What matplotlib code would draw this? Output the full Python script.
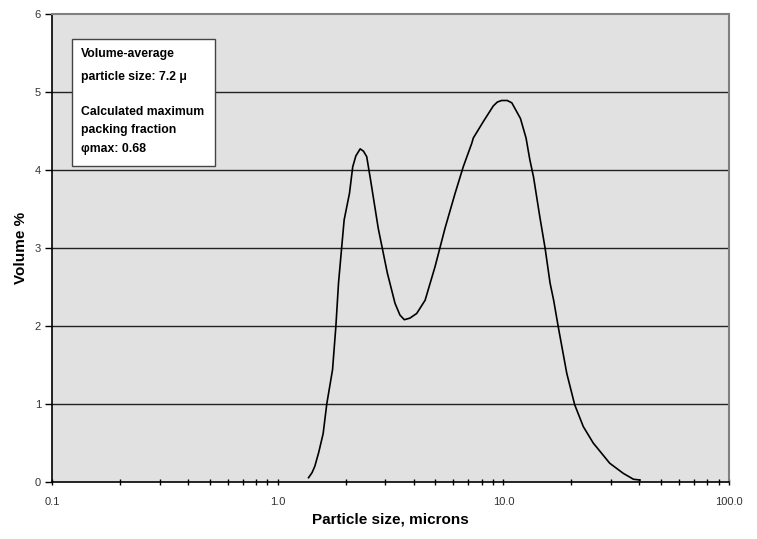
import matplotlib
matplotlib.use("Agg")
import matplotlib.pyplot as plt
from matplotlib.patches import Rectangle
from matplotlib.ticker import LogLocator, FixedLocator, NullFormatter

plt.rcParams['font.family'] = ['Liberation Sans', 'DejaVu Sans']

# particle size distribution
size_um = [1.37, 1.42, 1.46, 1.52, 1.59, 1.65, 1.75, 1.81, 1.86, 1.92, 1.97,
           2.08, 2.15, 2.22, 2.32, 2.40, 2.48, 2.58, 2.79, 3.06, 3.31, 3.48,
           3.64, 3.85, 4.13, 4.50, 4.98, 5.51, 6.11, 6.64, 7.24, 7.36, 8.15,
           9.02, 9.40, 9.82, 10.4, 10.9, 11.9, 12.6, 13.1, 13.6, 14.5, 15.3,
           16.1, 16.7, 17.5, 19.1, 20.7, 22.6, 25.0, 29.6, 34.0, 37.7, 40.3]
volume_pct = [0.055, 0.12, 0.20, 0.38, 0.62, 1.00, 1.44, 1.99, 2.55, 3.00, 3.36,
              3.70, 4.04, 4.18, 4.27, 4.24, 4.17, 3.87, 3.25, 2.68, 2.29, 2.14,
              2.08, 2.10, 2.16, 2.33, 2.76, 3.25, 3.70, 4.04, 4.34, 4.41, 4.62,
              4.82, 4.87, 4.89, 4.89, 4.86, 4.66, 4.41, 4.13, 3.91, 3.40, 3.00,
              2.55, 2.33, 1.99, 1.39, 0.99, 0.71, 0.50, 0.24, 0.11, 0.035, 0.025]

x_ticks = [0.1, 1.0, 10.0, 100.0]
y_ticks = [0, 1, 2, 3, 4, 5, 6]

box_lines = ["Volume-average", "particle size: 7.2 \u03bc",
             "Calculated maximum", "packing fraction", "\u03c6max: 0.68"]
box_line_y = [0.915, 0.866, 0.790, 0.752, 0.712]

fig = plt.figure(figsize=(7.57, 5.39), dpi=100)
ax = fig.add_axes([0.0687, 0.1058, 0.8944, 0.8684])
ax.set_facecolor("#e1e1e1")

ax.set_xscale("log")
ax.set_xlim(0.1, 100)
ax.set_ylim(0, 6)

# gridlines
for yv in y_ticks[1:-1]:
    ax.axhline(yv, color="#222222", linewidth=1.0, zorder=1)

ax.plot(size_um, volume_pct, color="black", linewidth=1.2, zorder=3,
        solid_joinstyle="round")

for s in ["top", "right"]:
    ax.spines[s].set_color("#808080")
    ax.spines[s].set_linewidth(1.5)
for s in ["left", "bottom"]:
    ax.spines[s].set_color("black")
    ax.spines[s].set_linewidth(1.2)

ax.xaxis.set_major_locator(FixedLocator(x_ticks))
ax.set_xticklabels([f"{v:.1f}" for v in x_ticks])
ax.xaxis.set_minor_locator(LogLocator(base=10, subs=range(2, 10)))
ax.xaxis.set_minor_formatter(NullFormatter())
ax.tick_params(axis="x", which="both", direction="inout", length=5, width=1,
               labelsize=8, labelcolor="#333333", pad=8)
ax.set_yticks(y_ticks)
ax.tick_params(axis="y", direction="out", length=5, width=1,
               labelsize=8, labelcolor="#333333", pad=3)

ax.set_xlabel("Particle size, microns", fontsize=11, fontweight="bold", labelpad=4)
ax.set_ylabel("Volume %", fontsize=11, fontweight="bold", labelpad=5)

# info box
ax.add_patch(Rectangle((0.0295, 0.675), 0.2115, 0.2716, transform=ax.transAxes,
                       facecolor="white", edgecolor="#444444", linewidth=1, zorder=5))
for line, yy in zip(box_lines, box_line_y):
    ax.text(0.043, yy, line, transform=ax.transAxes, fontsize=8.8,
            fontweight="bold", va="center", ha="left", zorder=6)

fig.savefig("out.png", dpi=100)
